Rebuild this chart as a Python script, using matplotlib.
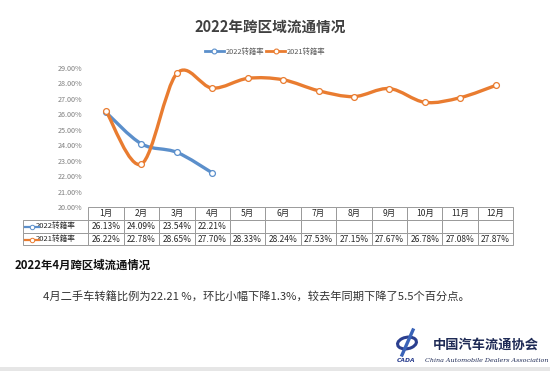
import numpy as np
import matplotlib
matplotlib.use("Agg")
import matplotlib.pyplot as plt
from matplotlib.path import Path
from matplotlib.patches import PathPatch, Ellipse, Rectangle
from matplotlib.lines import Line2D

plt.rcParams['font.family'] = ['Noto Sans CJK SC', 'DejaVu Sans']

months = ["1月", "2月", "3月", "4月", "5月", "6月", "7月", "8月", "9月", "10月", "11月", "12月"]
rate_2022 = [26.13, 24.09, 23.54, 22.21]
rate_2021 = [26.22, 22.78, 28.65, 27.70, 28.33, 28.24, 27.53, 27.15, 27.67, 26.78, 27.08, 27.87]
label_2022 = "2022转籍率"
label_2021 = "2021转籍率"

blue = "#5B8FCB"
orange = "#E97C30"

W, H = 550, 371
fig = plt.figure(figsize=(5.5, 3.71), dpi=100)
fig.patch.set_facecolor("white")


def px(x, y):
    # pixel (from top-left) -> figure fraction
    return x / W, 1 - y / H


def smooth_path(xs, ys):
    pts = np.column_stack([xs, ys]).astype(float)
    verts = [pts[0]]
    codes = [Path.MOVETO]
    n = len(pts)
    for i in range(n - 1):
        p0 = pts[i - 1] if i > 0 else pts[i]
        p1, p2 = pts[i], pts[i + 1]
        p3 = pts[i + 2] if i + 2 < n else pts[i + 1]
        verts += [p1 + (p2 - p0) / 6, p2 - (p3 - p1) / 6, p2]
        codes += [Path.CURVE4] * 3
    return Path(verts, codes)


# chart axes
ax_left, ax_right = 88.3, 513.3
y_bot_px = 207.0
ppu = 15.44
ytop = 29.3
top_px = y_bot_px - (ytop - 20) * ppu
ax = fig.add_axes([ax_left / W, 1 - y_bot_px / H, (ax_right - ax_left) / W, (y_bot_px - top_px) / H])
ax.set_xlim(-0.5, 11.5)
ax.set_ylim(20, ytop)
for s in ax.spines.values():
    s.set_visible(False)
ax.set_xticks([])
ax.set_yticks(np.arange(20, 30, 1))
ax.set_yticklabels(["%.2f%%" % v for v in np.arange(20, 30, 1)])
ax.tick_params(axis="y", length=0, pad=4, labelsize=5.2, labelcolor="#7F7F7F")

for vals, col, z in [(rate_2022, blue, 2), (rate_2021, orange, 3)]:
    x = np.arange(len(vals))
    ax.add_patch(PathPatch(smooth_path(x, vals), fill=False, edgecolor=col, lw=2.4,
                           capstyle="round", joinstyle="round", zorder=z))
    ax.plot(x, vals, ls="none", marker="o", ms=4.2, mfc="white", mec=col, mew=0.9, zorder=z + 0.5)

# title and legend
fig.text(*px(270, 27), "2022年跨区域流通情况", ha="center", va="center",
         fontsize=10.5, fontweight="bold", color="#404040")
h22 = Line2D([], [], color=blue, lw=2, marker="o", ms=3.5, mfc="white", mec=blue, mew=0.8)
h21 = Line2D([], [], color=orange, lw=2, marker="o", ms=3.5, mfc="white", mec=orange, mew=0.8)
fig.legend([h22, h21], [label_2022, label_2021], loc="center", bbox_to_anchor=px(265, 52),
           ncol=2, frameon=False, fontsize=5.3, labelcolor="#595959", handlelength=2.6,
           handletextpad=0.2, columnspacing=0.3, borderpad=0)

# data table; first column holds the series names
cell_text = [[label_2022] + [("%.2f%%" % v) for v in rate_2022] + [""] * (len(months) - len(rate_2022)),
             [label_2021] + [("%.2f%%" % v) for v in rate_2021]]
tab_l, tab_t, tab_b = 22.7, 207.3, 245.5
axw = ax_right - ax_left
axh = y_bot_px - top_px
tbl = ax.table(cellText=cell_text, colLabels=[""] + months, cellLoc="center",
               bbox=[(tab_l - ax_left) / axw, -(tab_b - y_bot_px) / axh,
                     (ax_right - tab_l) / axw, (tab_b - tab_t) / axh])
tbl.auto_set_font_size(False)
for (r, c), cell in tbl.get_celld().items():
    cell.set_edgecolor("#9A9A9A")
    cell.set_linewidth(0.7)
    cell.get_text().set_fontsize(6.1)
    cell.get_text().set_color("#262626")
    if c == 0:
        cell.set_width(65.6)
        cell._loc = "right"
        cell.PAD = 0.01
        cell.get_text().set_fontsize(5.5)
        if r == 0:
            cell.visible_edges = ""
    else:
        cell.set_width(35.4)
    cell.set_height(12.7)

# legend keys inside row labels
for y, col in [(226.5, blue), (239.5, orange)]:
    fig.add_artist(Line2D([24.5 / W, 39 / W], [1 - y / H] * 2, color=col, lw=1.6,
                          transform=fig.transFigure))
    fig.add_artist(Line2D([31.5 / W], [1 - y / H], marker="o", ms=3.2, mfc="white",
                          mec=col, mew=0.7, transform=fig.transFigure))

# text below
fig.text(*px(15, 265), "2022年4月跨区域流通情况", ha="left", va="center",
         fontsize=8.2, fontweight="bold", color="#111111")
fig.text(*px(43, 297), "4月二手车转籍比例为22.21 %，环比小幅下降1.3%，较去年同期下降了5.5个百分点。",
         ha="left", va="center", fontsize=8.1, color="#333333")

# logo
fig.add_artist(Ellipse(px(407, 343), 20 / W, 11 / H, angle=35, fill=False,
                       edgecolor="#2B3F8F", lw=2.2, transform=fig.transFigure))
fig.add_artist(Line2D([402 / W, 413 / W], [1 - 355 / H, 1 - 330 / H], color="#3A63B8", lw=2.4,
                      transform=fig.transFigure))
fig.text(*px(406, 360), "CADA", ha="center", va="center", fontsize=4.3, fontweight="bold",
         fontstyle="italic", color="#2B3F8F", family="DejaVu Sans")
fig.text(*px(486, 345), "中国汽车流通协会", ha="center", va="center", fontsize=9.5,
         fontweight="bold", color="#1E2A55")
fig.text(*px(487, 360), "China Automobile Dealers Association", ha="center", va="center",
         fontsize=4.6, fontstyle="italic", color="#1E2A55", family="DejaVu Serif")

fig.add_artist(Rectangle((0, 0), 1, 4.5 / H, transform=fig.transFigure,
                         facecolor="#E6E6E6", edgecolor="none"))

fig.savefig("out.png", dpi=100, facecolor="white")
